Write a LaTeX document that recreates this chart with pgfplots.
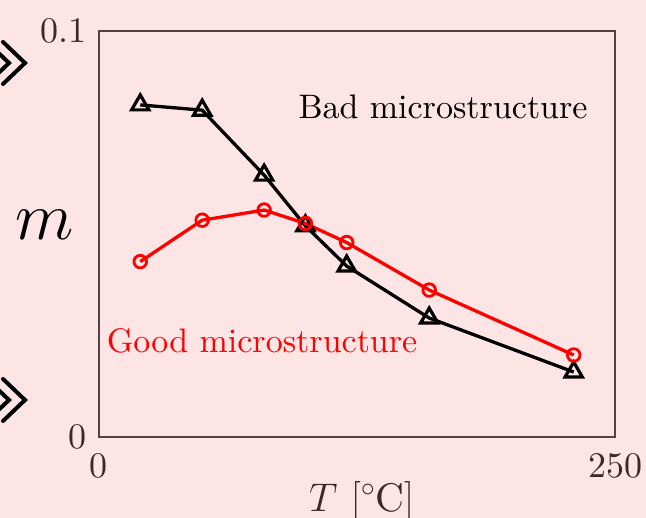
\RequirePackage{fix-cm}
\documentclass[border=0pt]{standalone}
\usepackage{fontspec}
\setmainfont{lmroman10-regular}[Extension=.otf, ItalicFont=lmroman10-italic, BoldFont=lmroman10-bold]
\usepackage{pgfplots}
\pgfplotsset{compat=1.18}
\usetikzlibrary{backgrounds}

\definecolor{bgpink}{RGB}{253,229,229}
\definecolor{axisbrown}{RGB}{85,65,65}
\definecolor{ticktext}{RGB}{60,40,40}

\begin{document}
\begin{tikzpicture}
\begin{axis}[
    name=ax,
    scale only axis,
    width=516bp, height=406bp,
    xmin=0, xmax=250,
    ymin=0, ymax=0.1,
    xtick={0,250}, ytick={0,0.1},
    xticklabels={0,250}, yticklabels={0,0.1},
    /pgf/number format/assume math mode=true,
    major tick length=0pt,
    axis line style={axisbrown, line width=1.2bp},
    tick label style={ticktext, font=\fontsize{36bp}{42bp}\selectfont},
    xticklabel style={yshift=-13bp},
    yticklabel style={xshift=-9bp},
    xlabel={$T$ $[^\circ\mathrm{C}]$},
    ylabel={$m$},
    x label style={at={(axis description cs:0.509,-0.158)}, anchor=center,
        font=\fontsize{40bp}{46bp}\selectfont, text=ticktext},
    y label style={at={(axis description cs:-0.105,0.522)}, anchor=center,
        rotate=-90, font=\fontsize{68bp}{75bp}\selectfont, text=black},
    clip=false,
]
% bad microstructure
\addplot[black, line width=3.3bp, mark=triangle, mark size=10bp,
    mark options={line width=3.2bp, fill=none}] coordinates {
    (20, 0.0818)
    (50, 0.0805)
    (80, 0.0645)
    (100, 0.0520)
    (120, 0.0421)
    (160, 0.0293)
    (230, 0.0160)
};
% good microstructure
\addplot[red, line width=3.3bp, mark=o, mark size=6.3bp,
    mark options={line width=2.8bp}] coordinates {
    (20, 0.0432)
    (50, 0.0534)
    (80, 0.0559)
    (100, 0.0526)
    (120, 0.0479)
    (160, 0.0362)
    (230, 0.0202)
};
\node[black, font=\fontsize{34bp}{40bp}\selectfont, anchor=center]
    at (axis cs:166.7,0.0813) {Bad microstructure};
\node[red, font=\fontsize{34bp}{40bp}\selectfont, anchor=center]
    at (axis cs:79,0.0236) {Good microstructure};
\end{axis}

% decorative chevrons on the left edge
\begin{scope}[shift={(ax.south west)}, black, line width=4bp, line cap=round, line join=miter]
  \draw (-96bp,395bp) -- (-74bp,374bp) -- (-96bp,353bp);
  \draw (-112bp,395bp) -- (-90bp,374bp) -- (-112bp,353bp);
  \draw (-96bp,58bp) -- (-74bp,37bp) -- (-96bp,16bp);
  \draw (-112bp,58bp) -- (-90bp,37bp) -- (-112bp,16bp);
\end{scope}

\begin{scope}[on background layer]
  \fill[bgpink] (ax.south west) ++(-99bp,-81bp) rectangle ++(646bp,518bp);
\end{scope}
\pgfresetboundingbox
\path (ax.south west) ++(-99bp,-81bp) rectangle ++(646bp,518bp);
\end{tikzpicture}
\end{document}
